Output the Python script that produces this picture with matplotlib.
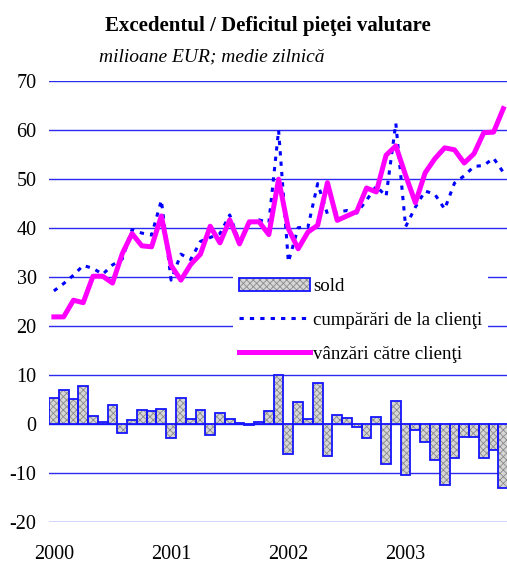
import matplotlib
matplotlib.use("Agg")
import matplotlib.pyplot as plt
import numpy as np

plt.rcParams['font.family'] = ['Liberation Serif', 'DejaVu Serif']
plt.rcParams['hatch.color'] = '#8a8a8a'
plt.rcParams['hatch.linewidth'] = 0.6

# ---- data (monthly, Jan 2000 - Nov 2003) ----
sales = [21.8, 21.8, 25.2, 24.7, 30.1, 30.1, 28.7, 34.7, 38.8, 36.3, 36.1, 42.4,
         32.3, 29.3, 32.5, 34.6, 40.3, 36.9, 41.6, 36.7, 41.2, 41.2, 38.6, 49.9,
         39.8, 35.7, 39.1, 40.5, 49.2, 41.5, 42.4, 43.3, 48.1, 47.3, 54.8, 56.7,
         50.7, 45.1, 51.2, 54.1, 56.3, 55.9, 53.2, 55.1, 59.4, 59.5, 64.3]
purchases = [27.1, 28.6, 30.3, 32.3, 31.7, 30.5, 32.4, 33.6, 39.6, 38.9, 38.5, 45.6,
             29.3, 34.6, 33.5, 37.2, 38.0, 38.8, 42.6, 37.0, 40.9, 41.6, 41.0, 59.9,
             33.0, 40.0, 40.1, 49.0, 42.8, 43.2, 43.5, 43.0, 45.6, 48.5, 46.4, 61.3,
             40.2, 44.2, 47.5, 46.8, 43.8, 49.1, 50.6, 52.5, 52.7, 54.2, 51.3]
sold = [5.2, 6.8, 5.0, 7.7, 1.5, 0.35, 3.8, -1.8, 0.7, 2.7, 2.5, 3.1,
        -2.9, 5.2, 0.9, 2.7, -2.4, 2.1, 0.9, 0.2, -0.3, 0.35, 2.5, 9.9,
        -6.2, 4.35, 0.9, 8.4, -6.5, 1.7, 1.1, -0.75, -2.9, 1.4, -8.3, 4.6,
        -10.5, -1.3, -3.7, -7.4, -12.6, -6.9, -2.7, -2.7, -6.9, -5.4, -13.2]
year_labels = ['2000', '2001', '2002', '2003']
y_ticks = [-20, -10, 0, 10, 20, 30, 40, 50, 60, 70]

title = 'Excedentul / Deficitul pieţei valutare'
subtitle = 'milioane EUR; medie zilnică'
labels = ['sold', 'cumpărări de la clienţi', 'vânzări către clienţi']

W, H = 507, 563
fig = plt.figure(figsize=(W / 100, H / 100), dpi=100)
ax_left, ax_right, ax_top, ax_bot = 49, 507, 80.7, 521.7
ax = fig.add_axes([ax_left / W, (H - ax_bot) / H, (ax_right - ax_left) / W, (ax_bot - ax_top) / H])

x = np.arange(len(sold))

grid_blue = '#2a2af0'
for yv in y_ticks:
    ax.axhline(yv, color=grid_blue, lw=1.0, zorder=0.5)

bars_fill = ax.bar(x, sold, width=1.0, color='#d6d6d6', hatch='xxxxx', linewidth=0, zorder=1)
bars_edge = ax.bar(x, sold, width=1.0, fill=False, edgecolor='#1515ff', linewidth=1.3, zorder=1.1)

l_p, = ax.plot(x, purchases, color='#0000ff', lw=2.2, dashes=(1.4, 2.0), zorder=3)
l_s, = ax.plot(x, sales, color='#ff00ff', lw=3.6, zorder=4)

ax.set_xlim(-0.5, -0.5 + (ax_right - ax_left) / 9.77)
ax.set_ylim(-20, 70)
ax.set_yticks(y_ticks)
ax.set_yticklabels([str(v) for v in y_ticks], fontsize=14.5)
ax.set_xticks([0, 12, 24, 36])
ax.set_xticklabels(year_labels, fontsize=14.5)
ax.tick_params(axis='both', length=0)
ax.tick_params(axis='y', pad=9)
ax.tick_params(axis='x', pad=17)
for s in ax.spines.values():
    s.set_visible(False)

leg = ax.legend([(bars_fill, bars_edge), l_p, l_s], labels,
                loc='upper left', bbox_to_anchor=(233 / W, 1 - 272 / H),
                bbox_transform=fig.transFigure,
                fontsize=13.6, frameon=True, fancybox=False, framealpha=1,
                edgecolor='none', facecolor='white', borderpad=0.3,
                handlelength=3.75, handleheight=0.7, handletextpad=0.2,
                labelspacing=0.88, borderaxespad=0)
leg.set_zorder(10)

fig.text(268 / W, 1 - 26 / H, title, ha='center', va='center', fontsize=15, fontweight='bold')
fig.text(99 / W, 1 - 57 / H, subtitle, ha='left', va='center', fontsize=14, style='italic')

fig.savefig('out.png', dpi=100)
